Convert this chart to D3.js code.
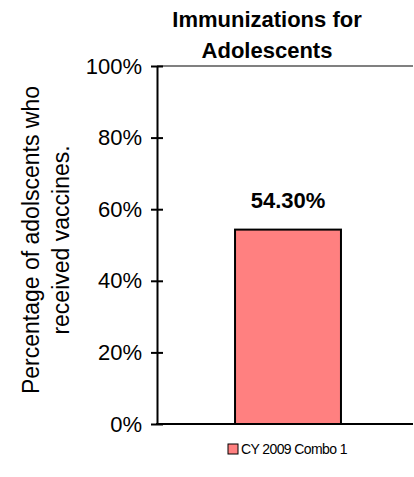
<!DOCTYPE html>
<html>
<head>
<meta charset="utf-8">
<script src="https://cdn.jsdelivr.net/npm/d3@7/dist/d3.min.js"></script>
<style>
  html, body { margin: 0; padding: 0; background: #fff; }
  svg { display: block; font-family: "Liberation Sans", Arial, sans-serif; }
</style>
</head>
<body>
<svg id="chart" width="414" height="477"></svg>
<script>
// Chart data
const categories = ["CY 2009 Combo 1"];
const values = [54.3];
const valueLabels = ["54.30%"];
const yTicks = [0, 20, 40, 60, 80, 100];
const yTickLabels = ["0%", "20%", "40%", "60%", "80%", "100%"];
const titleLines = ["Immunizations for", "Adolescents"];
const yTitleLines = ["Percentage of adolscents who", "received vaccines."];

const barColor = "#FF8080";

const svg = d3.select("#chart");
const plot = { left: 157, right: 413, top: 66, bottom: 424 };

const y = d3.scaleLinear().domain([0, 100]).range([plot.bottom, plot.top]);
const x = d3.scaleBand().domain(categories).range([163, plot.right])
  .paddingInner(0.5).paddingOuter(0.34);

// Title
svg.append("text")
  .attr("text-anchor", "middle")
  .attr("font-weight", "bold").attr("font-size", 22)
  .selectAll("tspan").data(titleLines).join("tspan")
  .attr("x", 267).attr("y", (d, i) => 27 + i * 31)
  .text(d => d);

// Top boundary line at 100%
svg.append("line")
  .attr("x1", plot.left).attr("x2", plot.right)
  .attr("y1", y(100)).attr("y2", y(100))
  .attr("stroke", "#808080").attr("stroke-width", 2);

// Bars
svg.selectAll("rect.bar").data(values).join("rect")
  .attr("class", "bar")
  .attr("x", (d, i) => x(categories[i]))
  .attr("width", x.bandwidth())
  .attr("y", d => y(d))
  .attr("height", d => y(0) - y(d))
  .attr("fill", barColor)
  .attr("stroke", "#000").attr("stroke-width", 2);

// Value labels
svg.selectAll("text.value").data(values).join("text")
  .attr("class", "value")
  .attr("x", (d, i) => x(categories[i]) + x.bandwidth() / 2)
  .attr("y", d => y(d) - 22)
  .attr("text-anchor", "middle")
  .attr("font-weight", "bold").attr("font-size", 22)
  .text((d, i) => valueLabels[i]);

// Y axis
const yAxis = d3.axisLeft(y).tickValues(yTicks)
  .tickFormat((d, i) => yTickLabels[i])
  .tickSize(0).tickPadding(15);
const gy = svg.append("g").attr("transform", `translate(${plot.left},0)`).call(yAxis);
gy.select(".domain").attr("stroke", "#000").attr("stroke-width", 2);
gy.selectAll(".tick text").attr("font-size", 22).attr("fill", "#000")
  .attr("font-family", "Liberation Sans, Arial, sans-serif");
gy.selectAll(".tick").append("line")
  .attr("x1", -6).attr("x2", 6).attr("stroke", "#000").attr("stroke-width", 2);

// X axis line
svg.append("line")
  .attr("x1", plot.left - 1).attr("x2", plot.right)
  .attr("y1", y(0)).attr("y2", y(0))
  .attr("stroke", "#000").attr("stroke-width", 2);

// Y axis title
svg.append("text")
  .attr("transform", "translate(0,240) rotate(-90)")
  .attr("text-anchor", "middle").attr("font-size", 23)
  .selectAll("tspan").data(yTitleLines).join("tspan")
  .attr("x", 0).attr("y", (d, i) => 39 + i * 30)
  .text(d => d);

// Legend
const legend = svg.append("g").attr("transform", "translate(228,444)");
legend.append("rect").attr("width", 10).attr("height", 10)
  .attr("fill", barColor).attr("stroke", "#000").attr("stroke-width", 1);
legend.append("text").attr("x", 13).attr("y", 10)
  .attr("font-size", 14).attr("letter-spacing", -0.6)
  .text(categories[0]);
</script>
</body>
</html>
